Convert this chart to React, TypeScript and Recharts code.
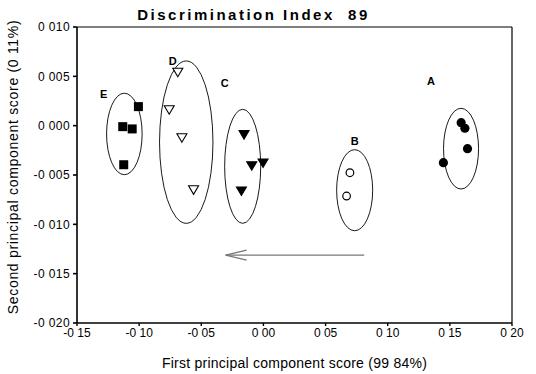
import React from "react";
import {
  ReferenceArea,
  ReferenceDot,
  ReferenceLine,
  Scatter,
  ScatterChart,
  XAxis,
  YAxis,
} from "recharts";

// scores (PC1, PC2)
const groupA = [
  { x: 0.1591, y: 0.0003 },
  { x: 0.1621, y: -0.00026 },
  { x: 0.1642, y: -0.00233 },
  { x: 0.1448, y: -0.00375 },
];
const groupB = [
  { x: 0.0696, y: -0.00477 },
  { x: 0.0669, y: -0.00713 },
];
const groupC = [
  { x: -0.0156, y: -0.00091 },
  { x: -0.0094, y: -0.00406 },
  { x: -0.0003, y: -0.00378 },
  { x: -0.0177, y: -0.00662 },
];
const groupD = [
  { x: -0.0689, y: 0.00542 },
  { x: -0.0758, y: 0.00162 },
  { x: -0.0656, y: -0.00122 },
  { x: -0.0562, y: -0.0065 },
];
const groupE = [
  { x: -0.1006, y: 0.00193 },
  { x: -0.1132, y: -0.0001 },
  { x: -0.1056, y: -0.00033 },
  { x: -0.1124, y: -0.00396 },
];

// group ellipses, given by their bounding boxes
const ellipses = [
  { name: "A", x1: 0.1449, x2: 0.1731, y1: -0.00642, y2: 0.00176 },
  { name: "B", x1: 0.0589, x2: 0.0879, y1: -0.01065, y2: -0.00243 },
  { name: "C", x1: -0.0312, x2: -0.0022, y1: -0.0099, y2: 0.00166 },
  { name: "D", x1: -0.0836, x2: -0.0406, y1: -0.0099, y2: 0.00656 },
  { name: "E", x1: -0.1262, x2: -0.0976, y1: -0.00497, y2: 0.00329 },
];

const groupLabels = [
  { name: "A", x: 0.1349, y: 0.0045 },
  { name: "B", x: 0.0735, y: -0.0016 },
  { name: "C", x: -0.0312, y: 0.0043 },
  { name: "D", x: -0.0729, y: 0.0066 },
  { name: "E", x: -0.1285, y: 0.0032 },
];

const arrowFrom = { x: 0.0811, y: -0.01312 };
const arrowTo = { x: -0.0304, y: -0.01312 };

const xTicks = [-0.15, -0.1, -0.05, 0, 0.05, 0.1, 0.15, 0.2];
const xTickLabels = ["-0 15", "-0 10", "-0 05", "0 00", "0 05", "0 10", "0 15", "0 20"];
const yTicks = [0.01, 0.005, 0, -0.005, -0.01, -0.015, -0.02];
const yTickLabels = ["0 010", "0 005", "0 000", "-0 005", "-0 010", "-0 015", "-0 020"];

const FONT = "'Liberation Sans', Arial, sans-serif";

const Square = ({ cx, cy }: any) => <rect x={cx - 4.5} y={cy - 4.5} width={9} height={9} fill="#000" />;
const Dot = ({ cx, cy }: any) => <circle cx={cx} cy={cy} r={4.6} fill="#000" />;
const Ring = ({ cx, cy }: any) => <circle cx={cx} cy={cy} r={3.8} fill="#fff" stroke="#000" strokeWidth={1.2} />;
const TriDown = ({ cx, cy, open }: any) => (
  <path
    d={`M${cx - 5},${cy - 4} L${cx + 5},${cy - 4} L${cx},${cy + 4.5} Z`}
    fill={open ? "#fff" : "#000"}
    stroke="#000"
    strokeWidth={1.1}
  />
);

const EllipseShape = ({ x, y, width, height }: any) => (
  <ellipse
    cx={x + width / 2}
    cy={y + height / 2}
    rx={Math.abs(width) / 2}
    ry={Math.abs(height) / 2}
    fill="none"
    stroke="#000"
    strokeWidth={0.9}
  />
);

const ArrowShape = ({ x1, y1, x2, y2 }: any) => {
  // tip is the left end
  const tipX = Math.min(x1, x2);
  const tailX = Math.max(x1, x2);
  return (
    <g stroke="#777" strokeWidth={1.2} fill="none">
      <line x1={tailX} y1={y1} x2={tipX} y2={y2} />
      <line x1={tipX} y1={y1} x2={tipX + 21} y2={y1 - 5} />
      <line x1={tipX} y1={y1} x2={tipX + 21} y2={y1 + 5} />
    </g>
  );
};

const GroupLabel = ({ cx, cy, text }: any) => (
  <text x={cx} y={cy} textAnchor="middle" dominantBaseline="central" fontFamily={FONT} fontSize={11} fontWeight="bold" fill="#000">
    {text}
  </text>
);

const YLabel = () => (
  <text
    x={13}
    y={167}
    transform="rotate(-90 13 167)"
    textAnchor="middle"
    dominantBaseline="central"
    fontFamily={FONT}
    fontSize={14}
    letterSpacing={0.7}
    fill="#000"
  >
    Second principal component score (0 11%)
  </text>
);

export default function App() {
  return (
    <div style={{ position: "absolute", left: 0, top: 0, width: 536, height: 374, background: "#fff", fontFamily: FONT }}>
      <div
        style={{
          position: "absolute",
          left: 0,
          width: 507,
          top: 6,
          textAlign: "center",
          fontSize: 15,
          lineHeight: "18px",
          fontWeight: "bold",
          letterSpacing: 2.5,
          whiteSpace: "pre",
        }}
      >
        {"Discrimination Index  89"}
      </div>
      <ScatterChart width={536} height={374} margin={{ top: 27, right: 24, bottom: 0, left: 0 }}>
        <XAxis
          type="number"
          dataKey="x"
          domain={[-0.15, 0.2]}
          ticks={xTicks}
          tickFormatter={(v: number) => xTickLabels[xTicks.indexOf(v)] ?? ""}
          height={51}
          stroke="#000"
          strokeWidth={1.4}
          tickSize={3}
          tickMargin={2}
          tick={{ fill: "#000", fontSize: 12, fontFamily: FONT }}
          allowDataOverflow
          label={{
            value: "First principal component score (99 84%)",
            position: "insideBottom",
            offset: 6,
            style: { fill: "#000", fontSize: 14, fontFamily: FONT, letterSpacing: 0.25 },
          }}
        />
        <YAxis
          type="number"
          dataKey="y"
          domain={[-0.02, 0.01]}
          ticks={yTicks}
          tickFormatter={(v: number) => yTickLabels[yTicks.indexOf(v)] ?? ""}
          width={77}
          stroke="#000"
          strokeWidth={1.6}
          tickSize={4}
          tickMargin={3}
          tick={{ fill: "#000", fontSize: 12, fontFamily: FONT, letterSpacing: 0.4 }}
          allowDataOverflow
          label={{ content: () => <YLabel /> }}
        />
        <ReferenceLine y={0.01} stroke="#000" strokeWidth={1.2} />
        <ReferenceLine x={0.2} stroke="#000" strokeWidth={1.2} />
        {ellipses.map((e) => (
          <ReferenceArea key={e.name} x1={e.x1} x2={e.x2} y1={e.y1} y2={e.y2} shape={EllipseShape} />
        ))}
        <ReferenceLine segment={[arrowFrom, arrowTo]} shape={ArrowShape} />
        {groupLabels.map((l) => (
          <ReferenceDot
            key={l.name}
            x={l.x}
            y={l.y}
            r={0}
            shape={(p: any) => <GroupLabel {...p} text={l.name} />}
          />
        ))}
        <Scatter data={groupE} shape={Square} isAnimationActive={false} />
        <Scatter data={groupD} shape={(p: any) => <TriDown {...p} open />} isAnimationActive={false} />
        <Scatter data={groupC} shape={(p: any) => <TriDown {...p} />} isAnimationActive={false} />
        <Scatter data={groupB} shape={Ring} isAnimationActive={false} />
        <Scatter data={groupA} shape={Dot} isAnimationActive={false} />
      </ScatterChart>
    </div>
  );
}
